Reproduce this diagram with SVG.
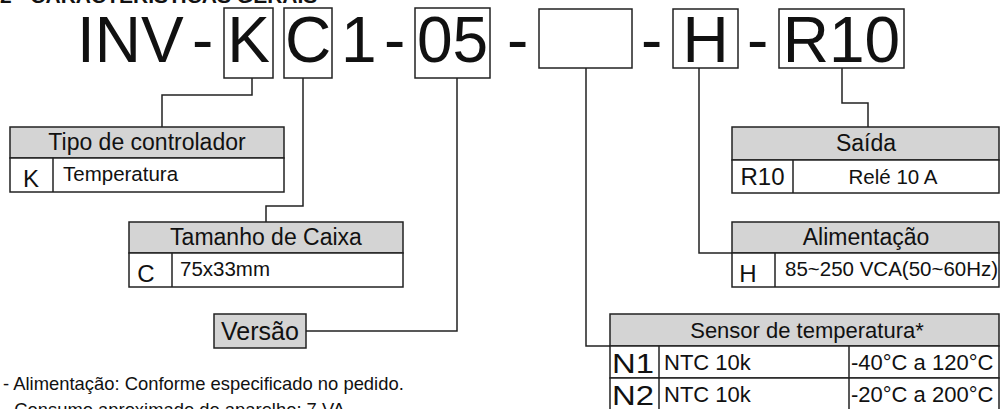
<svg xmlns="http://www.w3.org/2000/svg" width="1000" height="409" viewBox="0 0 1000 409">
<style>
text{font-family:"Liberation Sans",Arial,sans-serif;fill:#111}
.big{font-size:64px}
.box{fill:#fff;stroke:#222;stroke-width:1.5}
.hdr{fill:#d4d4d4;stroke:#222;stroke-width:1.5}
.cell{fill:#fff;stroke:#222;stroke-width:1.5}
.ln{fill:none;stroke:#222;stroke-width:1.5}
.h{font-size:23px;text-anchor:middle}
.d{font-size:20.5px}
.c{font-size:24px;text-anchor:middle}
.m{text-anchor:middle}
</style>
<rect width="1000" height="409" fill="#fff"/>
<text x="0" y="3" style="font-size:21px;font-weight:bold">2 - CARACTERÍSTICAS GERAIS</text>

<g id="code">
<rect class="box" x="224" y="8" width="49" height="70"/>
<rect class="box" x="284" y="8" width="48" height="70"/>
<rect class="box" x="415" y="8" width="75" height="70"/>
<rect class="box" x="539" y="9" width="93" height="59"/>
<rect class="box" x="673" y="9" width="65" height="59"/>
<rect class="box" x="779" y="9" width="125" height="59"/>
<text class="big" x="77" y="62">INV</text>
<text class="big" x="192" y="62">-</text>
<text class="big m" x="248.5" y="62">K</text>
<text class="big m" x="308" y="62">C</text>
<text class="big" x="341" y="62">1</text>
<text class="big" x="384" y="62">-</text>
<text class="big m" x="452.5" y="62">05</text>
<text class="big" x="507" y="62">-</text>
<text class="big" x="641" y="62">-</text>
<text class="big m" x="705.5" y="62">H</text>
<text class="big" x="747" y="62">-</text>
<text class="big m" x="841.5" y="62">R10</text>
</g>

<g id="connectors">
<polyline class="ln" points="252,78 252,95 162,95 162,127"/>
<polyline class="ln" points="303,78 303,206 266,206 266,222"/>
<polyline class="ln" points="457,78 457,331 306,331"/>
<polyline class="ln" points="586,68 586,346 610,346"/>
<polyline class="ln" points="699,68 699,253 732,253"/>
<polyline class="ln" points="842,68 842,103 868,103 868,127"/>
</g>

<g id="tipo">
<rect class="hdr" x="10" y="127" width="274" height="31"/>
<rect class="cell" x="10" y="158" width="274" height="34"/>
<line class="ln" x1="53" y1="158" x2="53" y2="192"/>
<text class="h" x="147" y="150">Tipo de controlador</text>
<text class="c" x="31" y="187">K</text>
<text class="d" x="63" y="181">Temperatura</text>
</g>

<g id="tamanho">
<rect class="hdr" x="129" y="222" width="274" height="31"/>
<rect class="cell" x="129" y="253" width="274" height="34"/>
<line class="ln" x1="172" y1="253" x2="172" y2="287"/>
<text class="h" x="266" y="245">Tamanho de Caixa</text>
<text class="c" x="146" y="282">C</text>
<text class="d" x="180" y="276">75x33mm</text>
</g>

<g id="versao">
<rect class="hdr" x="214" y="314" width="92" height="34"/>
<text x="260" y="340" style="font-size:25px;text-anchor:middle">Versão</text>
</g>

<g id="saida">
<rect class="hdr" x="732" y="127" width="267" height="33"/>
<rect class="cell" x="732" y="160" width="267" height="33"/>
<line class="ln" x1="793" y1="160" x2="793" y2="193"/>
<text class="h" x="866" y="151">Saída</text>
<text class="c" x="762.5" y="185">R10</text>
<text class="d m" x="893" y="184">Relé 10 A</text>
</g>

<g id="alimentacao">
<rect class="hdr" x="732" y="222" width="267" height="31"/>
<rect class="cell" x="732" y="253" width="267" height="34"/>
<line class="ln" x1="775" y1="253" x2="775" y2="287"/>
<text class="h" x="866" y="245">Alimentação</text>
<text class="c" x="748" y="282">H</text>
<text class="d" x="785" y="276">85~250 VCA(50~60Hz)</text>
</g>

<g id="sensor">
<rect class="hdr" x="610" y="314" width="389" height="32"/>
<rect class="cell" x="610" y="346" width="389" height="32"/>
<rect class="cell" x="610" y="378" width="389" height="32"/>
<line class="ln" x1="659" y1="346" x2="659" y2="410"/>
<line class="ln" x1="849" y1="346" x2="849" y2="410"/>
<text x="807" y="338" style="font-size:22px;text-anchor:middle">Sensor de temperatura*</text>
<text x="612" y="373" style="font-size:28px" textLength="42" lengthAdjust="spacingAndGlyphs">N1</text>
<text x="612" y="405" style="font-size:28px" textLength="42" lengthAdjust="spacingAndGlyphs">N2</text>
<text x="664" y="370" style="font-size:22px">NTC 10k</text>
<text x="664" y="402" style="font-size:22px">NTC 10k</text>
<text x="851" y="370" style="font-size:22px">-40°C a 120°C</text>
<text x="851" y="402" style="font-size:22px">-20°C a 200°C</text>
</g>

<g id="notes">
<text x="3" y="390" style="font-size:18.4px">- Alimentação: Conforme especificado no pedido.</text>
<text x="3" y="416" style="font-size:18.4px">- Consumo aproximado do aparelho: 7 VA</text>
</g>
</svg>
